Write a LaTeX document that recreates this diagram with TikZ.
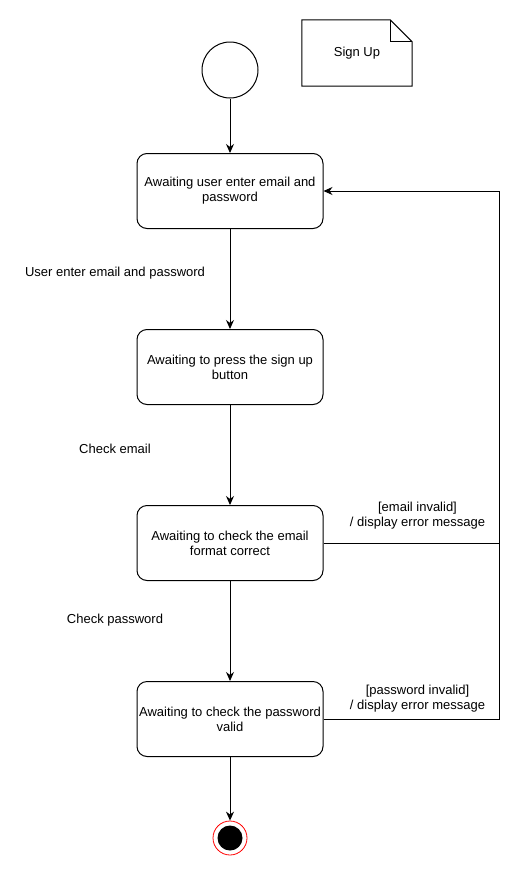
\documentclass[tikz,border=0pt]{standalone}
\usepackage{fontspec}
\setmainfont{Liberation Sans}
\usetikzlibrary{positioning,arrows.meta}

\tikzstyle{initial} = [circle, minimum size=56pt, inner sep=0pt, draw=black, line width=1pt]
\tikzstyle{state} = [rectangle, rounded corners=10pt, minimum width=186pt, minimum height=75pt, inner xsep=1pt, align=center, draw=black, line width=1pt]
\tikzstyle{final} = [circle, minimum size=34pt, inner sep=0pt, draw=red, line width=0.8pt, path picture={\fill[black] (path picture bounding box.center) circle (12.5pt);}]
\tikzstyle{arrow} = [line width=1pt,->,>={Stealth[length=9pt,width=8pt]}]
\tikzstyle{line} = [line width=1pt]

\begin{document}
\begin{tikzpicture}[node distance=176pt, font=\fontsize{13}{15}\selectfont]
\useasboundingbox (0,0) rectangle (523pt,-881pt);

\node (start) [initial] at (230pt,-70pt) {};
\node (enter) [state, below of=start, yshift=55pt] {Awaiting user enter email and\\password};
\node (press) [state, below of=enter] {Awaiting to press the sign up\\button};
\node (email) [state, below of=press] {Awaiting to check the email\\format correct};
\node (password) [state, below of=email] {Awaiting to check the password\\valid};
\node (end) [final, below of=password, yshift=57pt] {};

% sign up note
\node (note) at (357pt,-53pt) [minimum width=110pt, minimum height=66pt] {Sign Up};
\draw [line] (note.north west) -- ([xshift=-22pt]note.north east) -- ([yshift=-22pt]note.north east) -- (note.south east) -- (note.south west) -- cycle;
\draw [line] ([xshift=-22pt]note.north east) -- ([xshift=-22pt,yshift=-22pt]note.north east) -- ([yshift=-22pt]note.north east);

\draw [arrow] (start) -- (enter);
\draw [arrow] (enter) -- node[xshift=-115pt, yshift=6pt] {User enter email and password} (press);
\draw [arrow] (press) -- node[xshift=-115pt, yshift=6pt] {Check email} (email);
\draw [arrow] (email) -- node[xshift=-115pt, yshift=11pt] {Check password} (password);
\draw [arrow] (password) -- (end);

\draw [arrow] (email.east) --++ (176pt,0) coordinate (bend) node[pos=0.5, above, align=center, xshift=6pt, yshift=10pt] {[email invalid]\\/ display error message} |- (enter.east);
\draw [line] (password.east) --++ (176pt,0) node[pos=0.5, above, align=center, xshift=6pt, yshift=3pt] {[password invalid]\\/ display error message} -- (bend);

\end{tikzpicture}
\end{document}
